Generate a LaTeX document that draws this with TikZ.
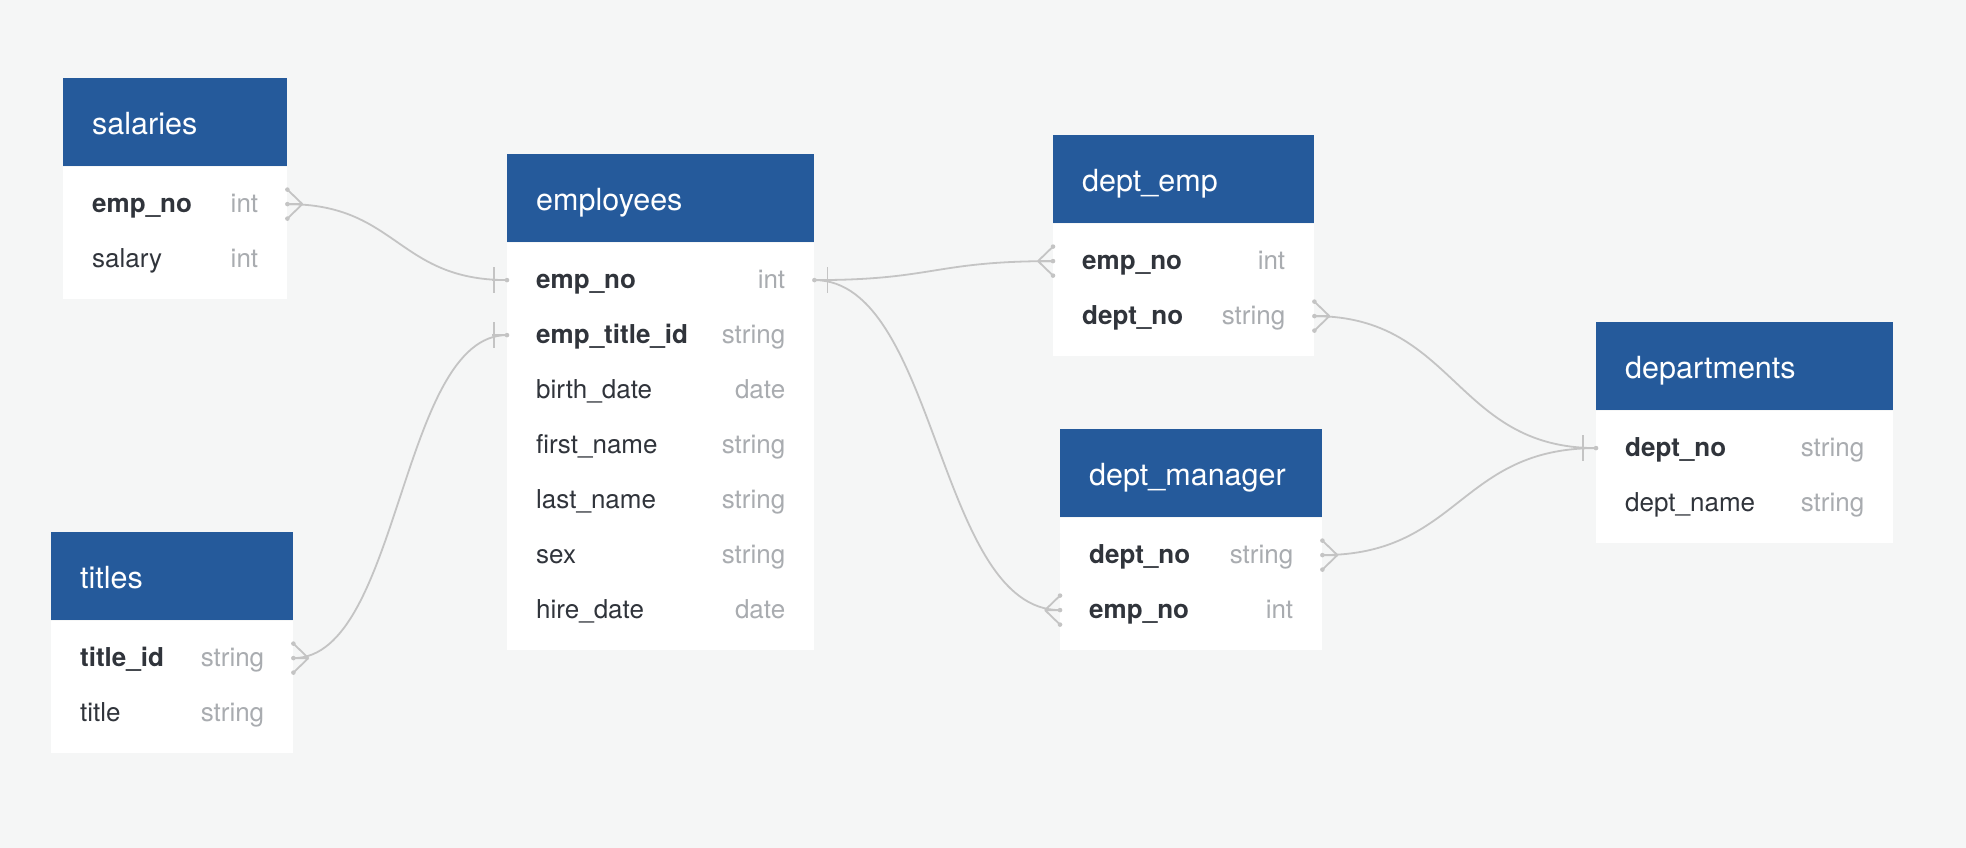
\documentclass[tikz,border=0pt]{standalone}
\usepackage{fontspec}
\setmainfont{TeX Gyre Heros}
\definecolor{erblue}{HTML}{255A9B}
\definecolor{erpaper}{HTML}{F5F6F6}
\definecolor{erink}{HTML}{30343B}
\definecolor{ergray}{HTML}{A9ACB0}
\definecolor{erline}{HTML}{C4C4C4}

\tikzset{
  erhead/.style={fill=erblue, draw=none, minimum height=88pt, inner sep=0pt, anchor=north west},
  erbody/.style={fill=white, draw=none, inner sep=0pt, anchor=north west},
  errow/.style={inner sep=0pt, minimum height=55pt, anchor=north west},
  ertitle/.style={text=white, font=\fontsize{30.5}{36}\selectfont, inner sep=0pt, anchor=base west},
  erfield/.style={text=erink, font=\fontsize{26}{31}\selectfont, inner sep=0pt, anchor=base west},
  erkey/.style={erfield, font=\fontsize{26}{31}\selectfont\bfseries},
  ertype/.style={text=ergray, font=\fontsize{26}{31}\selectfont, inner sep=0pt, anchor=base east},
  erlink/.style={draw=erline, line width=1.8pt},
}

% table: name, north west corner, width, title, number of rows, rows key/field/type/style
\newcommand{\ertable}[6]{%
  \node[erhead, minimum width=#3] (#1) at (#2) {};
  \node[erbody, minimum width=#3, minimum height=55*#5+22] (#1-body) at (#1.south west) {};
  \node[ertitle] (#1-title) at ([xshift=29pt, yshift=-12pt]#1.west) {#4};
  \foreach \k/\f/\t/\s [count=\i] in {#6} {
    \node[errow, minimum width=#3] (#1-\k) at ([yshift={-10-55*(\i-1)}]#1.south west) {};
    \node[\s] (#1-\k-name) at ([xshift=29pt, yshift=-8.5pt]#1-\k.west) {\f};
    \node[ertype] (#1-\k-type) at ([xshift=-29pt, yshift=-8.5pt]#1-\k.east) {\t};
  }
}
% crow's foot (many) and bar (one) ends, #2 = side (1 right, -1 left)
\newcommand{\erMany}[2]{%
  \draw[erlink] ([xshift=#2*15pt]#1) -- ([yshift=14.5pt]#1)
                ([xshift=#2*15pt]#1) -- (#1)
                ([xshift=#2*15pt]#1) -- ([yshift=-14.5pt]#1);
  \fill[erline] ([yshift=14.5pt]#1) circle (2.3pt) (#1) circle (2.3pt) ([yshift=-14.5pt]#1) circle (2.3pt);
}
\newcommand{\erOne}[2]{%
  \draw[erlink] ([xshift=#2*13pt, yshift=13pt]#1) -- ([xshift=#2*13pt, yshift=-13pt]#1)
                ([xshift=#2*15pt]#1) -- (#1);
  \fill[erline] (#1) circle (2.3pt);
}

\begin{document}
\begin{tikzpicture}[x=1pt, y=-1pt]
\path[use as bounding box, fill=erpaper] (0,0) rectangle (1966,848);

\ertable{salaries}{63,78}{224}{salaries}{2}{emp/emp\_no/int/erkey, sal/salary/int/erfield}
\ertable{employees}{507,154}{307}{employees}{7}{emp/emp\_no/int/erkey, title/emp\_title\_id/string/erkey,
  birth/birth\_date/date/erfield, first/first\_name/string/erfield, last/last\_name/string/erfield,
  sex/sex/string/erfield, hire/hire\_date/date/erfield}
\ertable{titles}{51,532}{242}{titles}{2}{tid/title\_id/string/erkey, title/title/string/erfield}
\ertable{deptemp}{1053,135}{261}{dept\_emp}{2}{emp/emp\_no/int/erkey, dept/dept\_no/string/erkey}
\ertable{deptman}{1060,429}{262}{dept\_manager}{2}{dept/dept\_no/string/erkey, emp/emp\_no/int/erkey}
\ertable{departments}{1596,322}{297}{departments}{2}{dept/dept\_no/string/erkey, name/dept\_name/string/erfield}

% relations
\draw[erlink] (salaries-emp.east) .. controls +(110,0) and +(-110,0) .. (employees-emp.west);
\draw[erlink] (titles-tid.east) .. controls +(107,0) and +(-107,0) .. (employees-title.west);
\draw[erlink] (employees-emp.east) .. controls +(120,0) and +(-120,0) .. (deptemp-emp.west);
\draw[erlink] (employees-emp.east) .. controls +(123,0) and +(-123,0) .. (deptman-emp.west);
\draw[erlink] (deptemp-dept.east) .. controls +(141,0) and +(-141,0) .. (departments-dept.west);
\draw[erlink] (deptman-dept.east) .. controls +(137,0) and +(-137,0) .. (departments-dept.west);

\erMany{salaries-emp.east}{1}
\erOne{employees-emp.west}{-1}
\erMany{titles-tid.east}{1}
\erOne{employees-title.west}{-1}
\erOne{employees-emp.east}{1}
\erMany{deptemp-emp.west}{-1}
\erMany{deptman-emp.west}{-1}
\erMany{deptemp-dept.east}{1}
\erMany{deptman-dept.east}{1}
\erOne{departments-dept.west}{-1}
\end{tikzpicture}
\end{document}
